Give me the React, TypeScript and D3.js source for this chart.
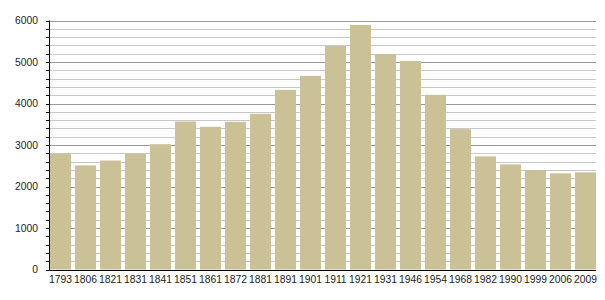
import React from "react";
import * as d3 from "d3";

const years = ["1793","1806","1821","1831","1841","1851","1861","1872","1881","1891","1901","1911","1921","1931","1946","1954","1968","1982","1990","1999","2006","2009"];
const population = [2790,2509,2625,2790,3020,3567,3439,3559,3752,4329,4666,5387,5892,5190,5026,4209,3383,2726,2533,2397,2317,2341];
const yTicks = [0,1000,2000,3000,4000,5000,6000];

const W = 605, H = 300;
const left = 50, right = 596, top = 20.5, bottom = 269.5;

export default function App() {
  const x = d3.scaleBand<string>().domain(years).range([left, right]).paddingInner(0.16).paddingOuter(0);
  const y = d3.scaleLinear().domain([0, 6000]).range([bottom, top]);
  const minor = d3.range(0, 6001, 200);
  const font = "'Liberation Sans', Arial, Helvetica, sans-serif";
  return (
    <svg width={W} height={H} style={{ position: "absolute", left: 0, top: 0, background: "#fff" }}>
      {minor.filter(v => v % 1000 !== 0).map(v => (
        <line key={"m" + v} x1={left} x2={right} y1={Math.round(y(v)) + 0.5} y2={Math.round(y(v)) + 0.5} stroke="#c8c8c8" strokeWidth={1} />
      ))}
      {yTicks.filter(v => v !== 0).map(v => (
        <line key={"M" + v} x1={left} x2={right} y1={Math.round(y(v)) + 0.5} y2={Math.round(y(v)) + 0.5} stroke="#999" strokeWidth={1} />
      ))}
      {years.map((yr, i) => (
        <rect key={yr} x={x(yr)} y={y(population[i])} width={x.bandwidth()} height={y(0) - y(population[i])} fill="#cbc197" />
      ))}
      {minor.map(v => (
        <line key={"t" + v} x1={left - 4} x2={left} y1={Math.round(y(v)) + 0.5} y2={Math.round(y(v)) + 0.5} stroke="#000" strokeWidth={1} />
      ))}
      <line x1={left - 0.5} x2={left - 0.5} y1={top} y2={bottom + 1} stroke="#000" strokeWidth={1} />
      <line x1={left - 1} x2={right} y1={Math.round(y(0)) + 0.5} y2={Math.round(y(0)) + 0.5} stroke="#000" strokeWidth={1} />
      {yTicks.map(v => (
        <text key={"l" + v} x={38} y={y(v)} dy="0.35em" textAnchor="end" fontFamily={font} fontSize={10.3} fill="#222">{v}</text>
      ))}
      {years.map(yr => (
        <text key={"x" + yr} x={(x(yr) as number) + x.bandwidth() / 2} y={282.5} textAnchor="middle" fontFamily={font} fontSize={10.3} fill="#222">{yr}</text>
      ))}
    </svg>
  );
}
